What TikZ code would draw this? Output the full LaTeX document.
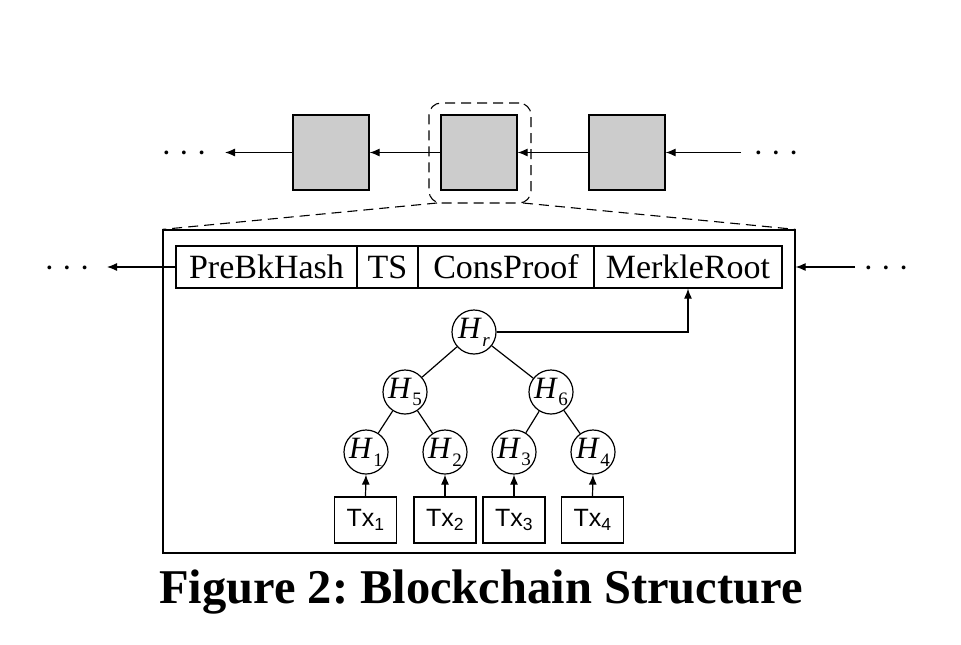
\documentclass[tikz,border=0pt]{standalone}
\usepackage{fontspec}
\setmainfont{Liberation Serif}
\setsansfont{Liberation Sans}
\usetikzlibrary{arrows.meta,positioning}
\definecolor{blockgray}{HTML}{CCCCCC}
\frenchspacing
\newcommand{\hsym}[1]{\textit{H}\kern0.5pt\raisebox{-0.25em}{\fontsize{19}{20}\selectfont #1}}
\newcommand{\threedots}{·\hspace{7pt}·\hspace{7pt}·}
\begin{document}
\begin{tikzpicture}[x=1pt,y=-1pt,
  line width=1.2pt,
  arr/.style={-{Latex[length=10pt,width=8pt]}},
  chainblk/.style={draw, fill=blockgray, minimum width=76pt, minimum height=75pt, inner sep=0pt},
  hcell/.style={draw, minimum height=42pt, inner sep=0pt, font=\fontsize{34}{36}\selectfont},
  hnode/.style={draw, circle, minimum size=44pt, inner sep=0pt, font=\fontsize{31}{33}\selectfont},
  txbox/.style={draw, minimum width=62pt, minimum height=46pt, inner sep=0pt, font=\sffamily\fontsize{25}{27}\selectfont},
  dotsty/.style={inner sep=0pt, font=\fontsize{32}{34}\selectfont},
  dashsty/.style={dash pattern=on 10pt off 6pt, line width=1.1pt}
]
\useasboundingbox (0,0) rectangle (961,645);

% top chain
\node[chainblk] (b1) at (331,152.5) {};
\node[chainblk] (b2) at (479,152.5) {};
\node[chainblk] (b3) at (627,152.5) {};
\node[dotsty, anchor=base] (ldots) at (184,163) {\threedots};
\node[dotsty, anchor=base] (rdots) at (776,163) {\threedots};
\coordinate (ltip) at (225,152.5);
\coordinate (rstart) at (741,152.5);
\draw[arr] (b1.west) -- (ltip);
\draw[arr] (b2.west) -- (b1.east);
\draw[arr] (b3.west) -- (b2.east);
\draw[arr] (rstart) -- (b3.east);

% dashed highlight
\node[draw, dashsty, rounded corners=12pt, minimum width=102pt, minimum height=100pt, inner sep=0pt] (hl) at (480,153) {};

% big box
\node[draw, minimum width=632pt, minimum height=323pt, inner sep=0pt] (big) at (479,391.5) {};
\coordinate (hlbl) at (437,203);
\coordinate (hlbr) at (523,203);
\draw[dashsty] (hlbl) -- (big.north west);
\draw[dashsty] (hlbr) -- (big.north east);

% header
\node[hcell, minimum width=181pt] (PH) at (266.5,267) {PreBkHash};
\node[hcell, minimum width=61pt] (TS) at (387.5,267) {TS};
\node[hcell, minimum width=176pt] (CP) at (506,267) {ConsProof};
\node[hcell, minimum width=188pt] (MR) at (688,267) {MerkleRoot};
\node[dotsty, anchor=base] (hldots) at (67,278) {\threedots};
\node[dotsty, anchor=base] (hrdots) at (886,278) {\threedots};
\coordinate (hltip) at (107,267);
\coordinate (hrstart) at (855,267);
\draw[arr] (PH.west) -- (hltip);
\draw[arr] (hrstart) -- (big.east |- hrstart);

% merkle tree
\node[hnode] (Hr) at (474,332) {\hsym{\textit{r}}};
\node[hnode] (H5) at (405,392) {\hsym{5}};
\node[hnode] (H6) at (551,392) {\hsym{6}};
\node[hnode] (H1) at (366,452) {\hsym{1}};
\node[hnode] (H2) at (445,452) {\hsym{2}};
\node[hnode] (H3) at (514,452) {\hsym{3}};
\node[hnode] (H4) at (593,452) {\hsym{4}};
\draw (Hr) -- (H5);
\draw (Hr) -- (H6);
\draw (H5) -- (H1);
\draw (H5) -- (H2);
\draw (H6) -- (H3);
\draw (H6) -- (H4);
\draw[arr] (Hr.east) -| (MR.south);

\node[txbox] (T1) at (365.5,520) {Tx\textsubscript{1}};
\node[txbox] (T2) at (445,520) {Tx\textsubscript{2}};
\node[txbox] (T3) at (514,520) {Tx\textsubscript{3}};
\node[txbox] (T4) at (592.5,520) {Tx\textsubscript{4}};
\draw[arr] (T1.north) -- (H1.south);
\draw[arr] (T2.north) -- (H2.south);
\draw[arr] (T3.north) -- (H3.south);
\draw[arr] (T4.north) -- (H4.south);

% caption
\node[font=\bfseries\fontsize{48.5}{52}\selectfont, inner sep=0pt] (cap) at (481,592) {Figure 2: Blockchain Structure};
\end{tikzpicture}
\end{document}
